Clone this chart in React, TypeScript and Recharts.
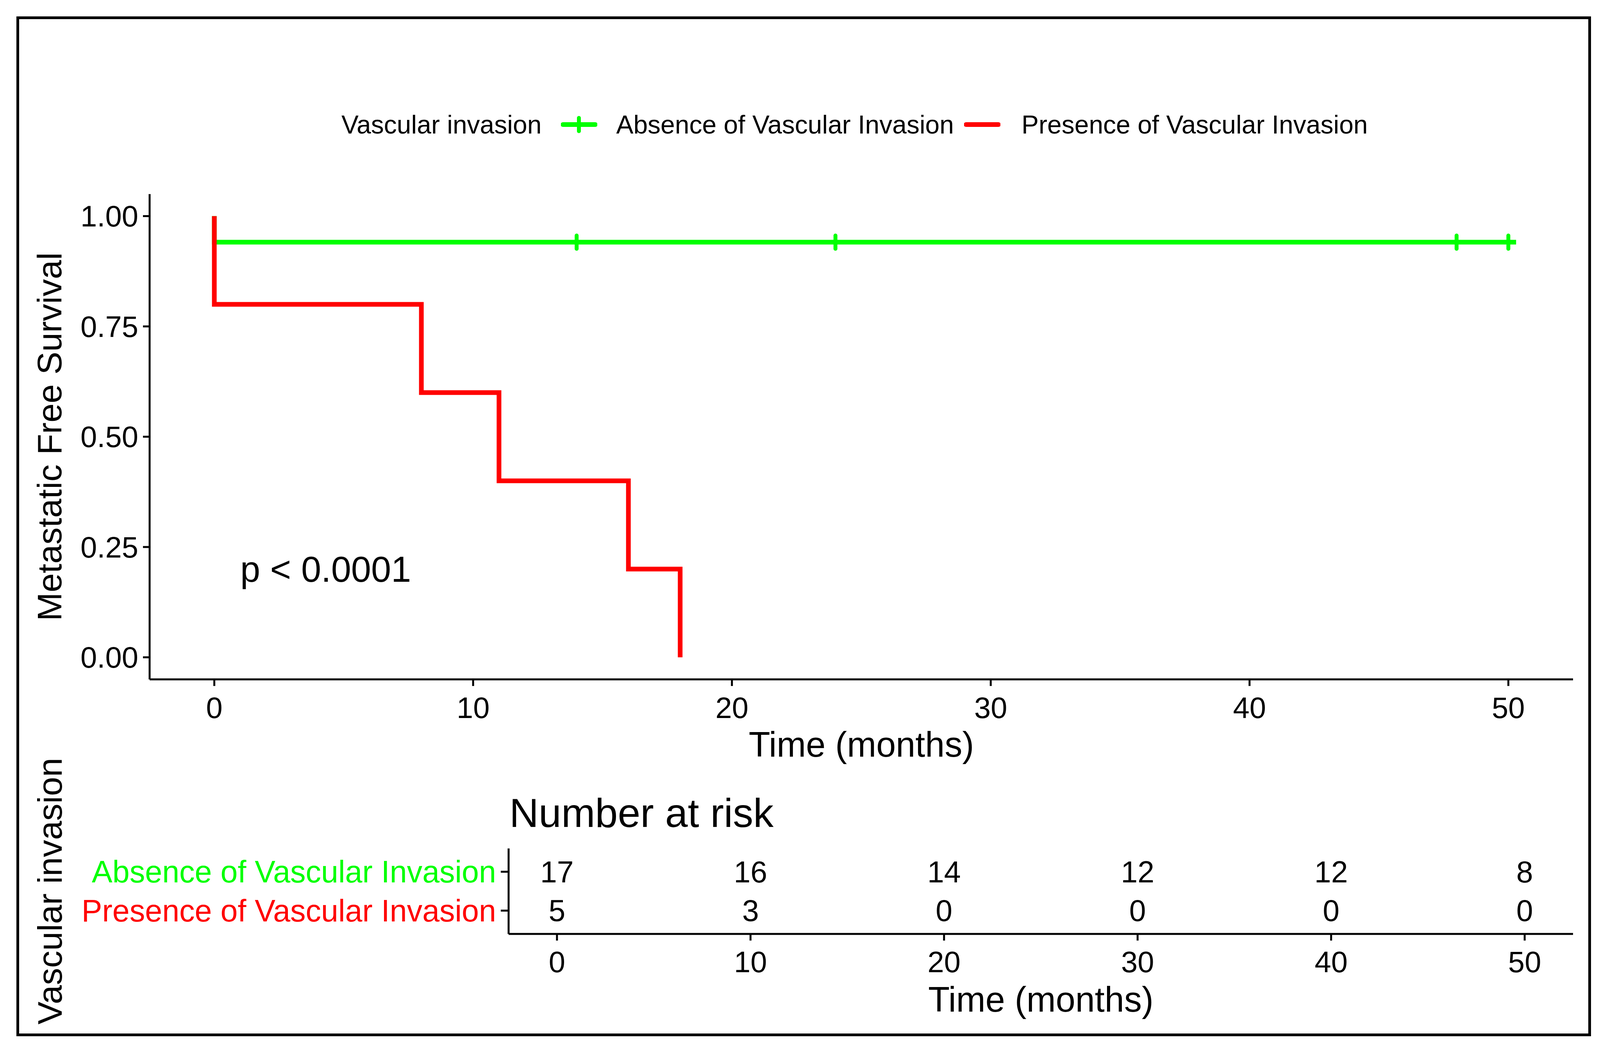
import React from "react"
import { ComposedChart, Line, Scatter, XAxis, YAxis, ReferenceDot } from "recharts"

const FONT = "'Liberation Sans', Arial, Helvetica, sans-serif"
const GREEN = "#00ff00"
const RED = "#ff0000"
const BLACK = "#000000"

// axes
const xTicks = [0, 10, 20, 30, 40, 50]
const yTicks = [0, 0.25, 0.5, 0.75, 1]

// Kaplan-Meier curves
const absenceTime = [0, 0, 50.3]
const absenceSurv = [1, 0.941, 0.941]
const absenceCensorTime = [14, 24, 48, 50]
const presenceTime = [0, 0, 8, 11, 16, 18]
const presenceSurv = [1, 0.8, 0.6, 0.4, 0.2, 0]

// number at risk table
const groups = ["Absence of Vascular Invasion", "Presence of Vascular Invasion"]
const groupColors = [GREEN, RED]
const riskTime = [0, 10, 20, 30, 40, 50]
const absenceAtRisk = [17, 16, 14, 12, 12, 8]
const presenceAtRisk = [5, 3, 0, 0, 0, 0]

const absenceCurve = absenceTime.map((t, i) => ({ time: t, surv: absenceSurv[i] }))
const presenceCurve = presenceTime.map((t, i) => ({ time: t, surv: presenceSurv[i] }))
const absenceCensor = absenceCensorTime.map((t) => ({
  time: t,
  surv: absenceSurv[absenceSurv.length - 1],
}))
// row 2 = absence (top), row 1 = presence (bottom), as in ggplot
const riskPoints = [
  ...riskTime.map((t, i) => ({ time: t, row: 2, n: absenceAtRisk[i] })),
  ...riskTime.map((t, i) => ({ time: t, row: 1, n: presenceAtRisk[i] })),
]

const AX = { stroke: BLACK, strokeWidth: 5 }
const TICK = { fontSize: 76, fill: BLACK, fontFamily: FONT }
const RIGHT = 103

function XTitle({ viewBox, text, dy }: any) {
  const { x, y, width } = viewBox
  return (
    <text
      x={x + width / 2}
      y={y + dy}
      textAnchor="middle"
      dominantBaseline="central"
      fontSize={90}
      fontFamily={FONT}
      fill={BLACK}
    >
      {text}
    </text>
  )
}

function YTitle({ viewBox, text, dx }: any) {
  const { x, y, height } = viewBox
  const cx = x + dx
  const cy = y + height / 2
  return (
    <text
      x={cx}
      y={cy}
      transform={`rotate(-90, ${cx}, ${cy})`}
      textAnchor="middle"
      dominantBaseline="central"
      fontSize={88}
      fontFamily={FONT}
      fill={BLACK}
    >
      {text}
    </text>
  )
}

function CensorMark(props: any) {
  const { cx, cy } = props
  return (
    <line
      x1={cx}
      x2={cx}
      y1={cy - 17}
      y2={cy + 17}
      stroke={GREEN}
      strokeWidth={10}
      strokeLinecap="round"
    />
  )
}

function RiskNumber(props: any) {
  const { cx, cy, payload } = props
  return (
    <text
      x={cx}
      y={cy}
      textAnchor="middle"
      dominantBaseline="central"
      fontSize={77}
      fontFamily={FONT}
      fill={BLACK}
    >
      {payload.n}
    </text>
  )
}

function RowTick(props: any) {
  const { x, y, payload } = props
  const idx = payload.value === 2 ? 0 : 1
  return (
    <text
      x={x}
      y={y}
      textAnchor="end"
      dominantBaseline="central"
      fontSize={79}
      fontFamily={FONT}
      fill={groupColors[idx]}
    >
      {groups[idx]}
    </text>
  )
}

function PValue(props: any) {
  const { cx, cy } = props
  return (
    <text
      x={cx}
      y={cy}
      dominantBaseline="central"
      fontSize={92}
      fontFamily={FONT}
      fill={BLACK}
    >
      p &lt; 0.0001
    </text>
  )
}

function LegendKey({ color, cross }: { color: string; cross?: boolean }) {
  return (
    <svg width={93} height={66} style={{ display: "block" }}>
      <line x1={5} x2={88} y1={33} y2={33} stroke={color} strokeWidth={12} strokeLinecap="round" />
      {cross && (
        <line x1={46} x2={46} y1={16} y2={50} stroke={color} strokeWidth={10} strokeLinecap="round" />
      )}
    </svg>
  )
}

function KMLegend() {
  const text = { fontSize: 66, lineHeight: "66px", fontFamily: FONT, color: BLACK, whiteSpace: "nowrap" as const }
  return (
    <div
      style={{
        position: "absolute",
        left: 874,
        top: 286,
        display: "flex",
        alignItems: "center",
      }}
    >
      <span style={text}>Vascular invasion</span>
      <span style={{ marginLeft: 50 }}>
        <LegendKey color={GREEN} cross />
      </span>
      <span style={{ ...text, marginLeft: 48 }}>{groups[0]}</span>
      <span style={{ marginLeft: 26 }}>
        <LegendKey color={RED} />
      </span>
      <span style={{ ...text, marginLeft: 54 }}>{groups[1]}</span>
    </div>
  )
}

export default function App() {
  return (
    <div
      style={{
        position: "absolute",
        left: 0,
        top: 0,
        width: 4130,
        height: 2720,
        background: "#fff",
        fontFamily: FONT,
      }}
    >
      <div
        style={{
          position: "absolute",
          left: 42,
          top: 42,
          width: 4031,
          height: 2612,
          border: "7px solid #000",
          boxSizing: "border-box",
        }}
      />
      <KMLegend />

      <div style={{ position: "absolute", left: 0, top: 0 }}>
        <ComposedChart width={4130} height={1960} margin={{ top: 497, right: RIGHT, bottom: 0, left: 60 }}>
          <XAxis
            type="number"
            dataKey="time"
            domain={[-2.5, 52.5]}
            ticks={xTicks}
            interval={0}
            allowDataOverflow
            height={220}
            tickSize={17}
            tickMargin={28}
            axisLine={AX}
            tickLine={AX}
            tick={TICK}
            label={<XTitle text="Time (months)" dy={167} />}
          />
          <YAxis
            type="number"
            domain={[-0.05, 1.05]}
            ticks={yTicks}
            interval={0}
            allowDataOverflow
            width={323}
            tickSize={17}
            tickMargin={12}
            tickFormatter={(v: number) => v.toFixed(2)}
            axisLine={AX}
            tickLine={AX}
            tick={TICK}
            label={<YTitle text="Metastatic Free Survival" dx={66} />}
          />
          <Line
            data={absenceCurve}
            dataKey="surv"
            type="stepAfter"
            stroke={GREEN}
            strokeWidth={12}
            dot={false}
            activeDot={false}
            isAnimationActive={false}
          />
          <Line
            data={presenceCurve}
            dataKey="surv"
            type="stepAfter"
            stroke={RED}
            strokeWidth={12}
            dot={false}
            activeDot={false}
            isAnimationActive={false}
          />
          <Scatter
            data={absenceCensor}
            dataKey="surv"
            shape={<CensorMark />}
            isAnimationActive={false}
          />
          <ReferenceDot x={1} y={0.2} r={0} shape={<PValue />} />
        </ComposedChart>
      </div>

      <div
        style={{
          position: "absolute",
          left: 1304,
          top: 2030,
          fontSize: 104,
          lineHeight: "104px",
          fontFamily: FONT,
          color: BLACK,
          whiteSpace: "nowrap",
        }}
      >
        Number at risk
      </div>

      <div style={{ position: "absolute", left: 0, top: 1860 }}>
        <ComposedChart width={4130} height={860} margin={{ top: 313, right: RIGHT, bottom: 98, left: 40 }}>
          <XAxis
            type="number"
            dataKey="time"
            domain={[-2.5, 52.5]}
            ticks={riskTime}
            interval={0}
            allowDataOverflow
            height={230}
            tickSize={17}
            tickMargin={27}
            axisLine={AX}
            tickLine={AX}
            tick={TICK}
            label={<XTitle text="Time (months)" dy={168} />}
          />
          <YAxis
            type="number"
            dataKey="row"
            domain={[0.4, 2.6]}
            ticks={[1, 2]}
            interval={0}
            allowDataOverflow
            width={1262}
            tickSize={20}
            tickMargin={12}
            axisLine={AX}
            tickLine={AX}
            tick={<RowTick />}
            label={<YTitle text="Vascular invasion" dx={87} />}
          />
          <Scatter data={riskPoints} dataKey="row" shape={<RiskNumber />} isAnimationActive={false} />
        </ComposedChart>
      </div>
    </div>
  )
}
